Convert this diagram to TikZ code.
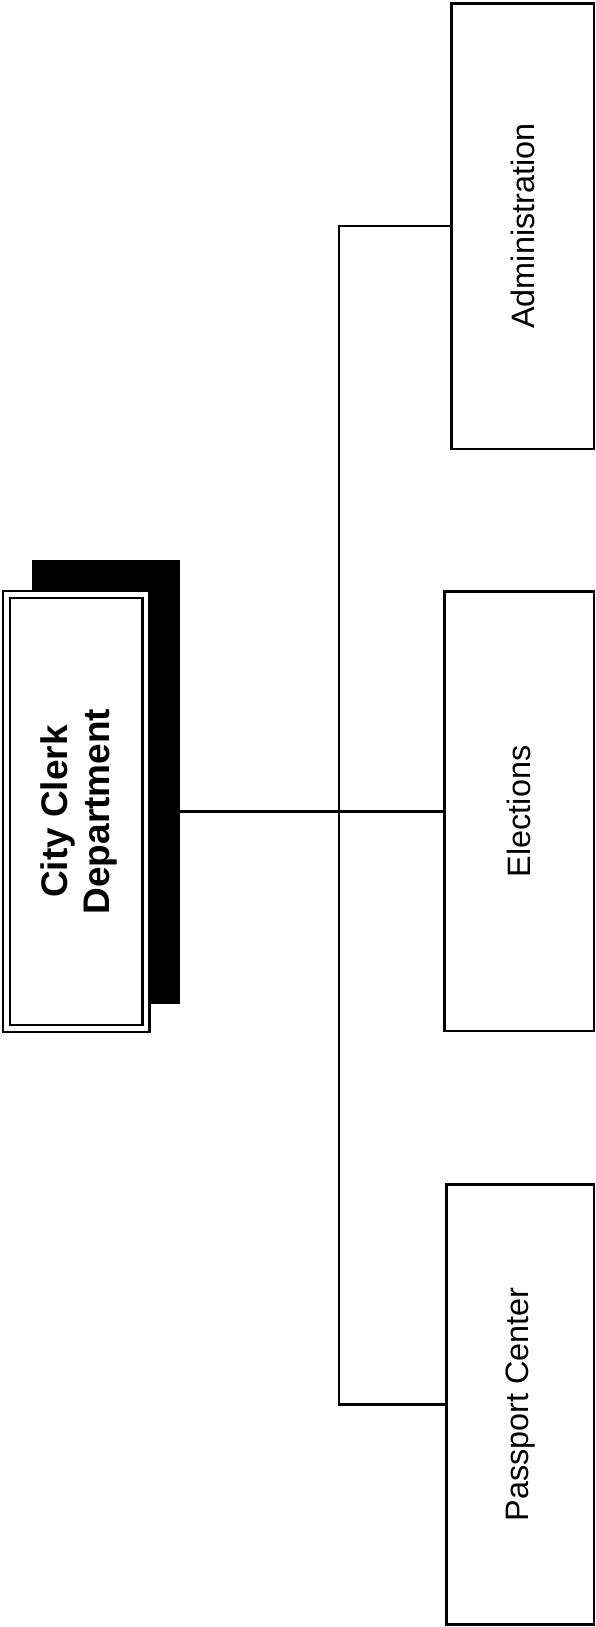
\documentclass[tikz,border=0pt]{standalone}
\usepackage{fontspec}
\usepackage{graphicx}
\setmainfont{Liberation Sans}
\begin{document}
\begin{tikzpicture}[x=1pt,y=-1pt,
  unitbox/.style={draw=black,line width=2.5pt,fill=white,rectangle,inner sep=0pt,outer sep=0pt,
    font=\fontsize{32.4}{39}\selectfont},
  link/.style={draw=black,line width=2.3pt}]
\useasboundingbox[fill=white] (0,0) rectangle (595,1627);
% shadow of the head box
\node[rectangle,fill=black,inner sep=0pt,outer sep=0pt,minimum width=148.3pt,minimum height=444pt] (shadow) at (105.85,782) {};
% head box with double border
\node[rectangle,draw=black,line width=2.4pt,double=white,double distance=4.6pt,fill=white,inner sep=0pt,outer sep=0pt,
  minimum width=139.5pt,minimum height=434pt,font=\bfseries\fontsize{37}{42.5}\selectfont] (main) at (76.25,811.5)
  {\hspace*{7pt}\rotatebox{90}{\begin{tabular}{@{}c@{}}City Clerk\\Department\end{tabular}}};
% unit boxes
\node[unitbox,minimum width=142.3pt,minimum height=445.7pt] (admin) at (522.85,226.15) {\rotatebox{90}{Administration}};
\node[unitbox,minimum width=149.5pt,minimum height=439.3pt] (elec) at (519.25,811.35) {\rotatebox{90}{Elections}};
\node[unitbox,minimum width=147.3pt,minimum height=439.7pt] (pass) at (520.35,1404.45) {\rotatebox{90}{Passport Center}};
% connectors
\coordinate (bus) at (339,811.5);
\draw[link] (shadow.east |- elec.west) -- (elec.west);
\draw[link] (admin.west) -- (admin.west -| bus) -- (pass.west -| bus) -- (pass.west);
\end{tikzpicture}
\end{document}
